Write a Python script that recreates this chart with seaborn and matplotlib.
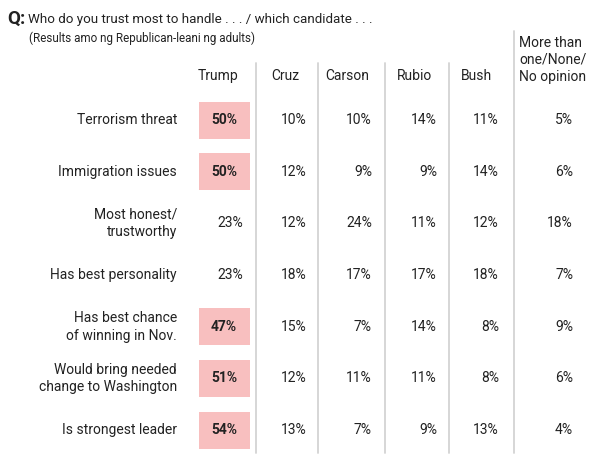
import matplotlib.pyplot as plt
import seaborn as sns

# datos de la tabla
items = ["Terrorism threat", "Immigration issues", "Most honest/\ntrustworthy",
         "Has best personality", "Has best chance\nof winning in Nov.",
         "Would bring needed\nchange to Washington", "Is strongest leader"]
candidatos = ["Trump", "Cruz", "Carson", "Rubio", "Bush",
              "More than\none/None/\nNo opinion"]
trump = [50, 50, 23, 23, 47, 51, 54]
cruz = [10, 12, 12, 18, 15, 12, 13]
carson = [10, 9, 24, 17, 7, 11, 7]
rubio = [14, 9, 11, 17, 14, 11, 9]
bush = [11, 14, 12, 18, 8, 8, 13]
otros = [5, 6, 18, 7, 9, 6, 4]
destacado = [True, True, False, False, True, True, True]

sns.set_theme(style="white")
plt.rcParams["font.family"] = ["Roboto", "DejaVu Sans"]

fig = plt.figure(figsize=(6.01, 4.59), dpi=100)
ax = fig.add_axes([0, 0, 1, 1])
ax.set_xlim(0, 601)
ax.set_ylim(459, 0)
ax.axis("off")

txt = "#222222"
rosa = "#F8BFBF"
gris = "#D3D3D3"

# titulo
ax.text(7, 19, "Q:", fontsize=13.5, fontweight="bold", color=txt, va="center")
ax.text(28, 19, "Who do you trust most to handle . . . / which candidate . . .",
        fontsize=9.6, color=txt, va="center")
ax.text(29, 38, "(Results amo ng Republican-leani ng adults)",
        fontsize=8.4, color=txt, va="center")

# columnas
centros = [218, 285, 347, 415, 476]
derecha = [243, 307, 372, 437, 499, 573]
for c, nombre in zip(centros, candidatos[:5]):
    ax.text(c, 76, nombre, fontsize=10, color=txt, ha="center", va="center")
ax.text(519, 60, candidatos[5], fontsize=10, color=txt, ha="left", va="center",
        linespacing=1.25)

# separadores
for xl in [256, 318, 385, 449]:
    ax.plot([xl, xl], [63, 453], color=gris, lw=1.3)
ax.plot([514, 514], [31, 453], color=gris, lw=1.3)

filas = [120 + 51.7 * i for i in range(len(items))]

for i, y in enumerate(filas):
    ax.text(177, y, items[i], fontsize=10, color=txt, ha="right", va="center",
            linespacing=1.35)
    if destacado[i]:
        ax.bar(224, 37, width=51, bottom=y - 18.5, color=rosa, linewidth=0)
        ax.text(224, y, f"{trump[i]}%", fontsize=10, fontweight="bold",
                color=txt, ha="center", va="center")
    else:
        ax.text(derecha[0], y, f"{trump[i]}%", fontsize=10, color=txt,
                ha="right", va="center")
    for xr, serie in zip(derecha[1:], [cruz, carson, rubio, bush, otros]):
        ax.text(xr, y, f"{serie[i]}%", fontsize=10, color=txt,
                ha="right", va="center")

fig.savefig("out.png", dpi=100)
